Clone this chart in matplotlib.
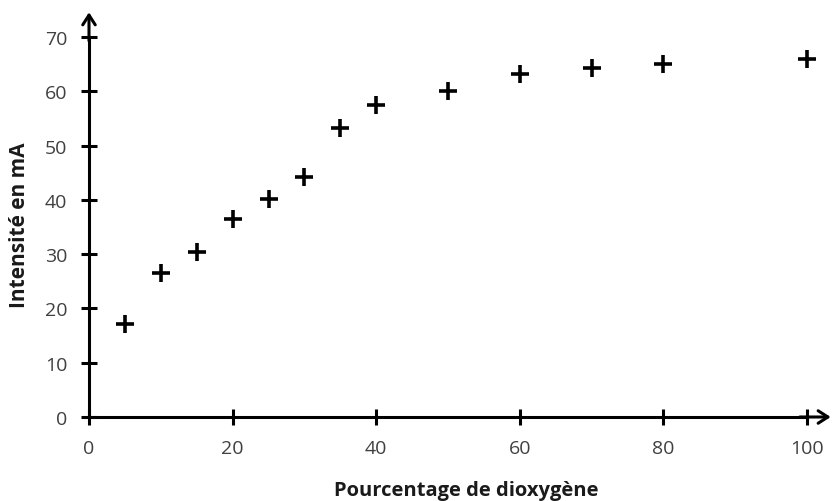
import matplotlib
matplotlib.use("Agg")
import matplotlib.pyplot as plt

x_vals = [5, 10, 15, 20, 25, 30, 35, 40, 50, 60, 70, 80, 100]
y_vals = [17.2, 26.6, 30.4, 36.5, 40.2, 44.2, 53.3, 57.4, 60.0, 63.2, 64.3, 65.0, 66.0]
x_ticks = [0, 20, 40, 60, 80, 100]
y_ticks = [0, 10, 20, 30, 40, 50, 60, 70]
x_label = "Pourcentage de dioxygène"
y_label = "Intensité en mA"

plt.rcParams['font.family'] = ['Open Sans', 'DejaVu Sans']

fig = plt.figure(figsize=(8.34, 5.02), dpi=100)
ax = fig.add_axes([89/834, 1-418/502, 718/834, 380/502])
ax.set_xlim(0, 100)
ax.set_ylim(0, 70)

ax.plot(x_vals, y_vals, linestyle='none', marker='+', markersize=13,
        markeredgewidth=2.6, color='black', clip_on=False, zorder=5)

for s in ['top', 'right']:
    ax.spines[s].set_visible(False)
for s in ['left', 'bottom']:
    ax.spines[s].set_linewidth(2.2)
    ax.spines[s].set_color('black')

ax.set_xticks(x_ticks)
ax.set_yticks(y_ticks)
ax.tick_params(axis='both', direction='inout', length=11, width=2.2,
               colors='black', labelcolor='#404040', labelsize=14)
ax.tick_params(axis='x', pad=10)
ax.tick_params(axis='y', pad=10)

# arrows
ax.annotate('', xy=(1.033, 0), xytext=(0.99, 0), xycoords='axes fraction',
            arrowprops=dict(arrowstyle='->,head_length=0.7,head_width=0.45',
                            lw=2.2, color='black', shrinkA=0, shrinkB=0))
ax.annotate('', xy=(0, 1.065), xytext=(0, 0.99), xycoords='axes fraction',
            arrowprops=dict(arrowstyle='->,head_length=0.7,head_width=0.45',
                            lw=2.2, color='black', shrinkA=0, shrinkB=0))

fig.text(466/834, 1-491/502, x_label, ha='center', va='center',
         fontsize=14.5, fontweight='bold', color='#1a1a1a')
fig.text(20/834, 1-225/502, y_label, ha='center', va='center',
         rotation=90, fontsize=15, fontweight='bold', color='#1a1a1a')

fig.savefig('out.png', dpi=100)
